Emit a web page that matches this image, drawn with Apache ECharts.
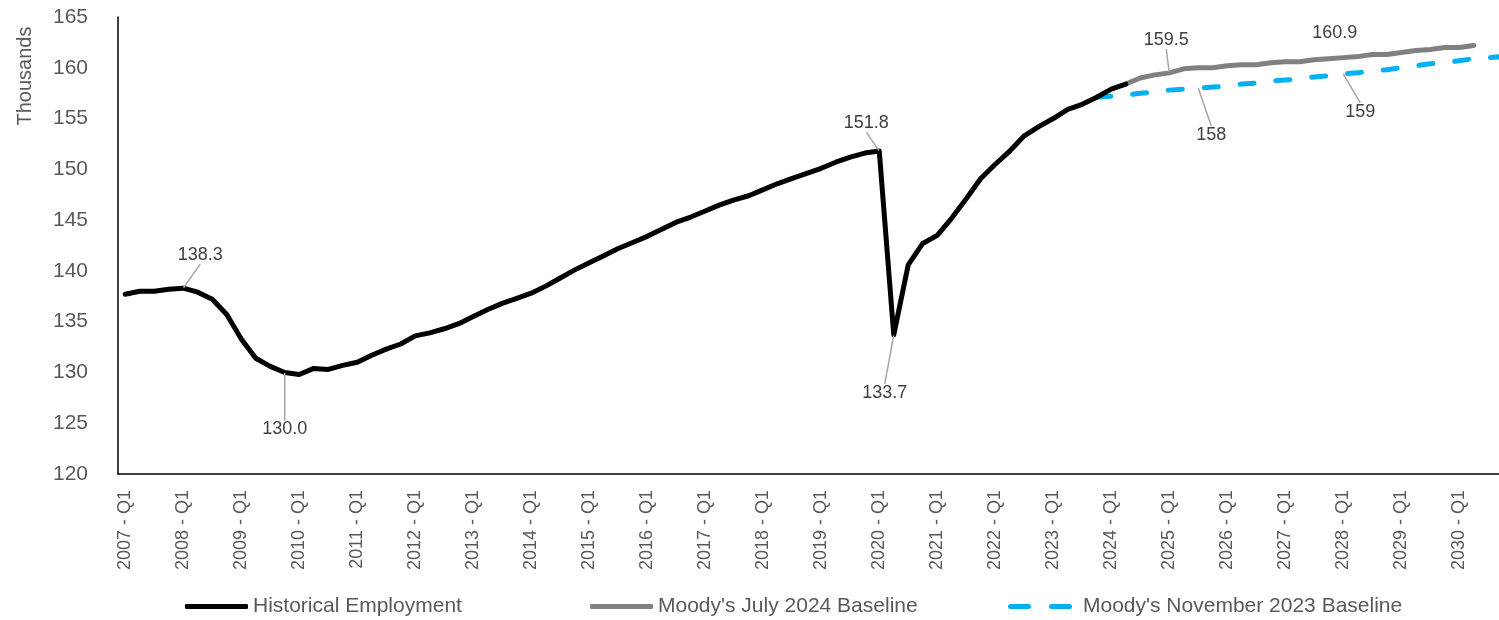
<!DOCTYPE html>
<html><head><meta charset="utf-8">
<script src="https://cdn.jsdelivr.net/npm/echarts@6/dist/echarts.min.js"></script>
<style>html,body{margin:0;padding:0;background:#fff}#c{width:1499px;height:620px}</style>
</head><body><div id="c"></div>
<script>
const years = [2007,2008,2009,2010,2011,2012,2013,2014,2015,2016,2017,2018,2019,2020,2021,2022,2023,2024,2025,2026,2027,2028,2029,2030];
const quarters = ['Q1','Q2','Q3','Q4'];
const categories = [];
years.forEach(y => quarters.forEach(q => categories.push(y + ' - ' + q)));

// Historical employment (thousands), from 2007 - Q1
const historicalStart = '2007 - Q1';
const historical = [
  137.7,138.0,138.0,138.2, 138.3,137.9,137.2,135.7, 133.3,131.4,130.6,130.0,
  129.8,130.4,130.3,130.7, 131.0,131.7,132.3,132.8, 133.6,133.9,134.3,134.8,
  135.5,136.2,136.8,137.3, 137.8,138.5,139.3,140.1, 140.8,141.5,142.2,142.8,
  143.4,144.1,144.8,145.3, 145.9,146.5,147.0,147.4, 148.0,148.6,149.1,149.6,
  150.1,150.7,151.2,151.6, 151.8,133.7,140.6,142.7, 143.5,145.2,147.1,149.1,
  150.5,151.8,153.3,154.2, 155.0,155.9,156.4,157.1, 157.9,158.4
];
// Moody's July 2024 Baseline, from 2024 - Q2
const july2024Start = '2024 - Q2';
const july2024 = [
  158.4,159.0,159.3, 159.5,159.9,160.0,160.0, 160.2,160.3,160.3,160.5,
  160.6,160.6,160.8,160.9, 161.0,161.1,161.3,161.3, 161.5,161.7,161.8,162.0,
  162.0,162.2
];
// Moody's November 2023 Baseline, from 2023 - Q4
const nov2023Start = '2023 - Q4';
const nov2023 = [
  157.1, 157.2,157.3,157.5,157.6, 157.8,157.9,158.0,158.1, 158.2,158.4,158.5,158.7,
  158.8,158.9,159.1,159.2, 159.4,159.5,159.7,159.8, 160.0,160.2,160.4,160.5,
  160.7,160.9,161.0,161.1
];
// labelled points
const historicalLabelled = ['2008 - Q1','2009 - Q4','2020 - Q1','2020 - Q2'];
const july2024Labelled = ['2025 - Q1','2027 - Q4'];
const nov2023Labelled = ['2025 - Q3','2028 - Q1'];

// label offsets (style): dx, dy, show leader line
const labelOffsets = {
  0: {'2008 - Q1':[17,-33,true],'2009 - Q4':[0,57,true],'2020 - Q1':[-13,-28,true],'2020 - Q2':[-9,58,true]},
  1: {'2025 - Q1':[-3,-33,true],'2027 - Q4':[6,-26,false]},
  2: {'2025 - Q3':[13,47,true],'2028 - Q1':[17,38,true]}
};

function build(values, start, labelled, digits, si) {
  const s = categories.indexOf(start);
  return categories.map((c, i) => {
    const k = i - s;
    if (k < 0 || k >= values.length) return null;
    const v = values[k];
    if (labelled.indexOf(c) >= 0) {
      const o = labelOffsets[si][c];
      return { value: v, symbol: 'circle', symbolSize: 1,
        label: { show: true, formatter: () => v.toFixed(digits) },
        labelLine: { show: o[2] } };
    }
    return v;
  });
}

const font = 'Liberation Sans, Arial, sans-serif';
const labelStyle = { show: false, position: 'inside', fontFamily: font, fontSize: 18, color: '#404040' };
const guide = { show: true, lineStyle: { color: '#a6a6a6', width: 1.5 } };
function layoutFor(si) {
  return function (p) {
    const o = labelOffsets[si][categories[p.dataIndex]];
    if (!o) return {};
    return { dx: o[0], dy: o[1] };
  };
}

const chart = echarts.init(document.getElementById('c'), null, { renderer: 'canvas' });
const legendBase = { top: 596, padding: 0, itemHeight: 5,
  itemStyle: { borderWidth: 0 },
  textStyle: { fontFamily: font, fontSize: 21, color: '#595959' } };
chart.setOption({
  animation: false,
  grid: { left: 118, top: 17, height: 457, width: 1392, containLabel: false, outerBoundsMode: 'none' },
  xAxis: {
    type: 'category', data: categories, boundaryGap: true,
    axisLine: { lineStyle: { color: '#000', width: 1.5 } },
    axisTick: { show: false },
    axisLabel: { interval: 3, rotate: 90, margin: 16, fontFamily: font, fontSize: 18, color: '#595959' },
    splitLine: { show: false }
  },
  yAxis: {
    type: 'value', min: 120, max: 165, interval: 5,
    axisLine: { show: true, lineStyle: { color: '#000', width: 1.5 } },
    axisTick: { show: false },
    axisLabel: { margin: 30, fontFamily: font, fontSize: 21, color: '#595959' },
    splitLine: { show: false }
  },
  graphic: [{
    type: 'text', x: 25, y: 76, rotation: Math.PI / 2,
    style: { text: 'Thousands', fontFamily: font, fontSize: 20, fill: '#595959', textAlign: 'center', textVerticalAlign: 'middle' }
  }],
  legend: [
    Object.assign({}, legendBase, { left: 185, itemWidth: 63,
      data: [{ name: 'Historical Employment', icon: 'roundRect' }] }),
    Object.assign({}, legendBase, { left: 590, itemWidth: 63,
      data: [{ name: "Moody's July 2024 Baseline", icon: 'roundRect' }] }),
    Object.assign({}, legendBase, { left: 1008, itemWidth: 64,
      textStyle: { fontFamily: font, fontSize: 21, color: '#595959', padding: [0, 0, 0, 6] },
      data: [{ name: "Moody's November 2023 Baseline", icon: 'path://M2.5,0h18a2.5,2.5,0,0,1,0,5h-18a2.5,2.5,0,0,1,0,-5z M43.5,0h18a2.5,2.5,0,0,1,0,5h-18a2.5,2.5,0,0,1,0,-5z' }] })
  ],
  series: [
    {
      name: "Moody's November 2023 Baseline", type: 'line', z: 2,
      data: build(nov2023, nov2023Start, nov2023Labelled, 0, 2),
      symbol: 'none', showSymbol: true, showAllSymbol: true,
      lineStyle: { color: '#00b0f0', width: 5, type: [14, 22], cap: 'round' },
      itemStyle: { color: '#00b0f0' },
      label: labelStyle, labelLine: guide, labelLayout: layoutFor(2)
    },
    {
      name: "Moody's July 2024 Baseline", type: 'line', z: 3,
      data: build(july2024, july2024Start, july2024Labelled, 1, 1),
      symbol: 'none', showSymbol: true, showAllSymbol: true,
      lineStyle: { color: '#808080', width: 5, cap: 'round' },
      itemStyle: { color: '#808080' },
      label: labelStyle, labelLine: guide, labelLayout: layoutFor(1)
    },
    {
      name: 'Historical Employment', type: 'line', z: 4,
      data: build(historical, historicalStart, historicalLabelled, 1, 0),
      symbol: 'none', showSymbol: true, showAllSymbol: true,
      lineStyle: { color: '#000000', width: 5, cap: 'round', join: 'round' },
      itemStyle: { color: '#000000' },
      label: labelStyle, labelLine: guide, labelLayout: layoutFor(0)
    }
  ]
});
</script>
</body></html>
